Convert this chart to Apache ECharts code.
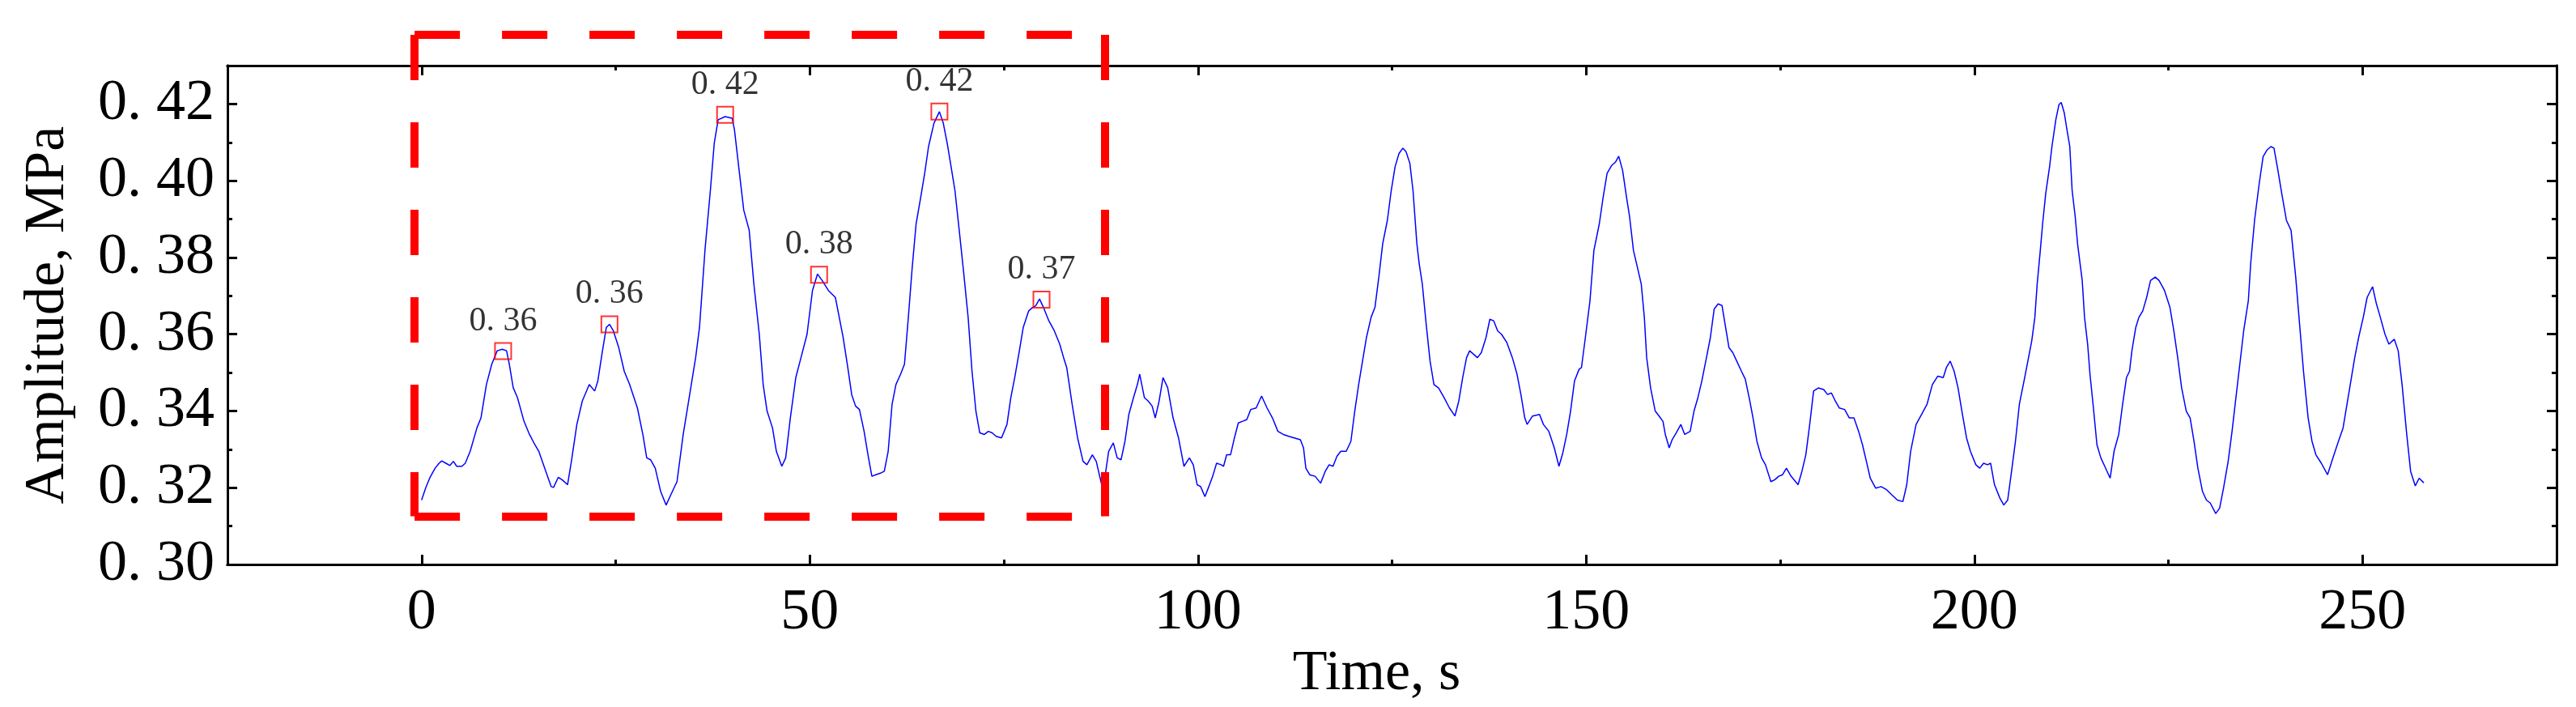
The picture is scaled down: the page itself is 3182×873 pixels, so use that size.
<!DOCTYPE html>
<html>
<head>
<meta charset="utf-8">
<script src="https://cdn.jsdelivr.net/npm/echarts@6/dist/echarts.min.js"></script>
<style>
html, body { margin: 0; padding: 0; background: #fff; }
#amplitudeChart { width: 3182px; height: 873px; }
</style>
</head>
<body>
<div id="amplitudeChart"></div>
<script>
// time (s) and amplitude (MPa)
var timeS = [
	0, 0.52, 1.04, 1.74, 2.26, 2.6, 3.13, 3.65, 4.1, 4.52, 5.2, 5.63, 6.26, 7.13, 7.65, 8.35, 9.04, 9.74, 10.4, 10.95,
	11.3, 11.8, 12.35, 13.2, 13.9, 14.6, 15.1, 16.0, 16.7, 17.0, 17.6, 18.1, 18.8, 19.3, 20.0, 20.7, 21.6, 22.3, 22.7, 23.3,
	23.8, 24.2, 24.7, 25.4, 26.1, 26.8, 27.8, 28.5, 29.0, 29.5, 30.1, 30.8, 31.5, 32.2, 32.9, 33.7, 34.4, 35.3, 35.8, 36.5,
	37.2, 37.7, 38.2, 39.1, 40.0, 40.3, 41.0, 41.5, 42.2, 42.8, 43.5, 44.0, 44.5, 45.2, 45.7, 46.4, 46.9, 47.5, 48.2, 48.7,
	49.65, 50.35, 51.0, 51.6, 52.4, 53.3, 53.8, 54.3, 54.9, 55.4, 55.9, 56.4, 57.0, 57.5, 58.0, 58.5, 59.1, 59.6, 60.1, 60.6,
	61.1, 61.7, 62.2, 62.7, 63.2, 63.7, 64.3, 64.8, 65.3, 66.0, 66.7, 67.2, 67.7, 68.2, 68.7, 69.3, 69.8, 70.4, 70.9, 71.4,
	71.9, 72.5, 73.0, 73.5, 74.0, 74.7, 75.4, 75.9, 76.4, 77.0, 77.5, 78.2, 78.7, 79.1, 79.6, 80.1, 80.8, 81.5, 82.2, 82.7,
	83.1, 83.8, 84.5, 85.2, 85.7, 86.4, 86.9, 87.6, 88.0, 88.5, 89.1, 89.6, 90.1, 90.6, 91.1, 91.7, 92.2, 92.5, 93.1, 93.6,
	94.1, 94.5, 95.0, 95.5, 96.1, 96.8, 97.5, 98.2, 98.9, 99.4, 99.9, 100.35, 100.9, 101.4, 101.9, 102.4, 103.0, 103.3, 103.7, 104.2,
	104.7, 105.2, 105.7, 106.3, 106.8, 107.5, 108.2, 108.9, 109.6, 110.3, 111.0, 111.7, 112.4, 113.2, 113.6, 113.9, 114.4, 115.1, 115.8, 116.4,
	116.9, 117.4, 117.9, 118.4, 119.1, 119.7, 120.2, 120.7, 121.2, 121.7, 122.3, 122.8, 123.3, 123.8, 124.4, 124.9, 125.4, 125.9, 126.4, 126.8,
	127.3, 127.7, 128.2, 128.5, 128.9, 129.4, 129.9, 130.4, 131.0, 131.7, 132.4, 133.1, 133.6, 134.1, 134.6, 135.0, 135.5, 136.0, 136.5, 137.1,
	137.6, 138.1, 138.6, 139.1, 139.8, 140.5, 141.1, 141.6, 142.1, 142.4, 143.1, 144.0, 144.5, 145.2, 145.9, 146.5, 147.0, 147.5, 148.0, 148.5,
	149.1, 149.4, 149.9, 150.5, 151.0, 151.7, 152.2, 152.7, 153.3, 153.8, 154.2, 154.7, 155.2, 155.6, 156.1, 156.6, 157.1, 157.5, 157.8, 158.3,
	158.9, 159.4, 159.9, 160.2, 160.7, 161.1, 161.6, 162.2, 162.7, 163.4, 163.9, 164.4, 164.9, 165.5, 166.0, 166.5, 167.0, 167.5, 167.9, 168.4,
	168.9, 169.4, 170.0, 170.5, 171.0, 171.5, 172.0, 172.6, 173.1, 173.8, 174.3, 174.8, 175.3, 175.8, 176.4, 177.3, 177.8, 178.3, 178.8, 179.3,
	179.9, 180.6, 181.1, 181.6, 182.1, 182.6, 183.3, 183.9, 184.5, 185.1, 185.6, 186.1, 186.6, 187.3, 188.0, 188.7, 189.4, 190.1, 190.8, 191.3,
	191.8, 192.5, 193.2, 193.9, 194.6, 195.3, 196.0, 196.4, 196.9, 197.4, 197.9, 198.4, 199.0, 199.5, 200.2, 200.7, 201.2, 201.7, 202.1, 202.6,
	203.3, 203.8, 204.3, 204.8, 205.3, 205.8, 206.4, 206.9, 207.4, 207.8, 208.1, 208.5, 208.8, 209.2, 209.7, 210.0, 210.5, 210.9, 211.2, 211.6,
	211.9, 212.3, 212.6, 213.0, 213.3, 213.9, 214.2, 214.6, 214.9, 215.3, 215.8, 216.3, 216.8, 217.5, 218.0, 218.6, 219.1, 219.6, 220.0, 220.3,
	220.8, 221.2, 221.7, 222.2, 222.7, 223.3, 223.8, 224.5, 225.2, 225.7, 226.2, 226.7, 227.3, 227.8, 228.3, 228.8, 229.4, 229.9, 230.4, 231.1,
	231.6, 232.1, 232.7, 233.2, 233.7, 234.2, 234.7, 235.3, 235.6, 236.1, 236.7, 237.2, 237.7, 238.2, 238.6, 239.1, 239.6, 240.2, 240.8, 241.4,
	241.9, 242.4, 243.0, 243.5, 244.0, 244.7, 245.5, 246.2, 246.9, 247.5, 248.0, 248.5, 249.0, 249.5, 250.1, 250.6, 251.3, 251.8, 252.3, 252.9,
	253.4, 254.1, 254.6, 255.1, 255.7, 256.2, 256.8, 257.3, 257.9
];
var amplitude = [
	0.3168, 0.3199, 0.3225, 0.3251, 0.3264, 0.327, 0.3264, 0.3258, 0.3269, 0.3256, 0.3256, 0.3264, 0.3295, 0.3356, 0.3382, 0.3469, 0.3522, 0.3557, 0.3561, 0.3557,
	0.3522, 0.3461, 0.3435, 0.3373, 0.3339, 0.3312, 0.3295, 0.3243, 0.3203, 0.3201, 0.3227, 0.3221, 0.3208, 0.3269, 0.3365, 0.3426, 0.3469, 0.3452, 0.3478, 0.3557,
	0.3618, 0.3626, 0.3609, 0.3565, 0.3504, 0.3469, 0.3408, 0.3339, 0.3278, 0.3273, 0.3251, 0.319, 0.3155, 0.3186, 0.3216, 0.3339, 0.3426, 0.3539, 0.3618, 0.3818,
	0.3975, 0.4098, 0.4159, 0.4167, 0.4163, 0.4133, 0.401, 0.3923, 0.3871, 0.3731, 0.36, 0.3469, 0.34, 0.3356, 0.3295, 0.3256, 0.3278, 0.3382, 0.3487, 0.3526,
	0.36, 0.3714, 0.3757, 0.374, 0.3714, 0.3696, 0.3644, 0.3592, 0.3513, 0.3443, 0.3413, 0.3404, 0.3347, 0.3286, 0.323, 0.3234, 0.3238, 0.3243, 0.3295, 0.3417,
	0.3469, 0.3496, 0.3522, 0.3644, 0.3775, 0.3888, 0.3958, 0.4019, 0.4089, 0.415, 0.418, 0.415, 0.4098, 0.4037, 0.3975, 0.3862, 0.3766, 0.3644, 0.3504, 0.34,
	0.3343, 0.3339, 0.3347, 0.3343, 0.3334, 0.333, 0.3365, 0.3435, 0.3487, 0.3557, 0.3618, 0.3661, 0.367, 0.3674, 0.3692, 0.367, 0.3635, 0.3609, 0.3574, 0.3539,
	0.3513, 0.3417, 0.333, 0.3269, 0.326, 0.3286, 0.3269, 0.3208, 0.3225, 0.3295, 0.3317, 0.3278, 0.3273, 0.3321, 0.3391, 0.3435, 0.3469, 0.3496, 0.3435, 0.3426,
	0.3413, 0.3382, 0.3426, 0.3487, 0.3461, 0.3382, 0.333, 0.3256, 0.3278, 0.326, 0.3208, 0.3203, 0.3177, 0.3203, 0.323, 0.3264, 0.326, 0.3256, 0.3286, 0.3286,
	0.333, 0.3369, 0.3373, 0.3378, 0.3404, 0.3408, 0.3439, 0.3408, 0.3382, 0.3347, 0.3339, 0.3334, 0.333, 0.3325, 0.3304, 0.3251, 0.3234, 0.323, 0.3212, 0.3243,
	0.326, 0.3256, 0.3282, 0.3295, 0.3295, 0.3321, 0.34, 0.3469, 0.353, 0.3591, 0.3644, 0.367, 0.3749, 0.3836, 0.3897, 0.3975, 0.4037, 0.4071, 0.4085, 0.4076,
	0.4045, 0.3975, 0.3836, 0.3784, 0.3731, 0.3626, 0.353, 0.3469, 0.346, 0.3435, 0.3408, 0.3387, 0.3426, 0.3487, 0.3539, 0.3557, 0.3548, 0.3539, 0.3552, 0.3591,
	0.3639, 0.3635, 0.3609, 0.36, 0.3578, 0.3539, 0.3496, 0.3443, 0.3382, 0.3365, 0.3387, 0.3391, 0.3365, 0.3347, 0.3304, 0.3256, 0.3291, 0.3339, 0.34, 0.3478,
	0.3509, 0.3513, 0.3591, 0.3688, 0.3818, 0.3888, 0.3958, 0.4019, 0.404, 0.4049, 0.4064, 0.4027, 0.3958, 0.3906, 0.3818, 0.3775, 0.3731, 0.3644, 0.3539, 0.3461,
	0.34, 0.3387, 0.3373, 0.3339, 0.3304, 0.3326, 0.3343, 0.3365, 0.3339, 0.3347, 0.34, 0.3435, 0.3478, 0.3539, 0.3591, 0.3666, 0.3679, 0.3675, 0.3626, 0.3565,
	0.3552, 0.353, 0.3504, 0.3483, 0.3435, 0.3382, 0.3321, 0.3278, 0.326, 0.3216, 0.3221, 0.323, 0.3234, 0.3251, 0.323, 0.3208, 0.3243, 0.3286, 0.3365, 0.3452,
	0.346, 0.3456, 0.3443, 0.3447, 0.3426, 0.3408, 0.3404, 0.3382, 0.3382, 0.3347, 0.3312, 0.3269, 0.3225, 0.3199, 0.3203, 0.3195, 0.3181, 0.3168, 0.3164, 0.3208,
	0.3295, 0.3365, 0.3391, 0.3417, 0.3469, 0.3491, 0.3487, 0.3513, 0.353, 0.3504, 0.3461, 0.34, 0.333, 0.3295, 0.326, 0.3251, 0.3264, 0.326, 0.3264, 0.3208,
	0.3173, 0.3155, 0.3168, 0.3243, 0.3321, 0.3417, 0.3478, 0.353, 0.3583, 0.3644, 0.3731, 0.3818, 0.3888, 0.3967, 0.4037, 0.4089, 0.4159, 0.4198, 0.4204, 0.4176,
	0.4137, 0.4089, 0.3975, 0.3906, 0.3836, 0.374, 0.3644, 0.3574, 0.3496, 0.3417, 0.3312, 0.3278, 0.3256, 0.3225, 0.3295, 0.3339, 0.3417, 0.3487, 0.3504, 0.3557,
	0.3618, 0.3644, 0.3661, 0.3696, 0.374, 0.3749, 0.374, 0.3714, 0.367, 0.3609, 0.3539, 0.3461, 0.34, 0.3382, 0.3321, 0.3251, 0.319, 0.3168, 0.316, 0.3133,
	0.3147, 0.3199, 0.3269, 0.3347, 0.3435, 0.3522, 0.3609, 0.3688, 0.3784, 0.3897, 0.3993, 0.4063, 0.408, 0.4089, 0.4085, 0.4028, 0.3967, 0.3897, 0.3871, 0.3749,
	0.3626, 0.3504, 0.3382, 0.3321, 0.3286, 0.3264, 0.3234, 0.3278, 0.3321, 0.3356, 0.3417, 0.3478, 0.3539, 0.3591, 0.3644, 0.3696, 0.3724, 0.3679, 0.3644, 0.36,
	0.3574, 0.3587, 0.3557, 0.3469, 0.3339, 0.3243, 0.3205, 0.3225, 0.3213
];

// marked peaks in the first segment
var peakTime = [10.5, 24.2, 39.1, 51.2, 66.7, 79.85];
var peakAmp = [0.3556, 0.3626, 0.4172, 0.3755, 0.418, 0.369];
var peakLabels = ['0. 36', '0. 36', '0. 42', '0. 38', '0. 42', '0. 37'];

// dashed frame around the marked segment (time, amplitude corners)
var boxTime = [-0.9, 88.0];
var boxAmp = [0.3126, 0.438];

// axis ticks
var xMajor = [0, 50, 100, 150, 200, 250];
var xMinor = [25, 75, 125, 175, 225];
var yMajor = [0.30, 0.32, 0.34, 0.36, 0.38, 0.40, 0.42];
var yMinor = [0.31, 0.33, 0.35, 0.37, 0.39, 0.41];

var fontName = 'Liberation Serif';

function tickAxis(pos, values, len, withLabel) {
	var isX = (pos == 'bottom' || pos == 'top');
	var ax = {
		type: 'value',
		position: pos,
		min: isX ? -25 : 0.30,
		max: isX ? 275 : 0.43,
		axisLine: { show: true, onZero: false, lineStyle: { color: '#000', width: 3 } },
		axisTick: { show: true, inside: true, length: len, customValues: values, lineStyle: { color: '#000', width: 3 } },
		axisLabel: { show: false },
		splitLine: { show: false }
	};
	if (withLabel) {
		ax.axisLabel = {
			show: true,
			customValues: values,
			color: '#000',
			fontFamily: fontName,
			fontSize: 72,
			margin: isX ? 24 : 16,
			formatter: isX ? function (v) { return String(v); }
				: function (v) { return v.toFixed(2).replace('.', '. '); }
		};
	}
	return ax;
}

var trace = [];
for (var i = 0; i < timeS.length; i++) {
	trace.push([timeS[i], amplitude[i]]);
}
var peaks = [];
for (var j = 0; j < peakTime.length; j++) {
	peaks.push({ name: peakLabels[j], value: [peakTime[j], peakAmp[j]] });
}
var x0 = boxTime[0], x1 = boxTime[1], y0 = boxAmp[0], y1 = boxAmp[1];
var boxEdges = [
	{ coords: [[x0, y1], [x1, y1]] },
	{ coords: [[x0, y1], [x0, y0]] },
	{ coords: [[x1, y1], [x1, y0]] },
	{ coords: [[x0, y0], [x1, y0]] }
];

var xBottom = tickAxis('bottom', xMajor, 12, true);
xBottom.name = 'Time, s';
xBottom.nameLocation = 'middle';
xBottom.nameGap = 80;
// title sits a little left of the plot centre
xBottom.nameTextStyle = { color: '#000', fontFamily: fontName, fontSize: 70, padding: [0, 38, 0, 0] };

var yLeft = tickAxis('left', yMajor, 12, true);
yLeft.name = 'Amplitude, MPa';
yLeft.nameLocation = 'middle';
yLeft.nameGap = 186;
yLeft.nameTextStyle = { color: '#000', fontFamily: fontName, fontSize: 70 };

var chart = echarts.init(document.getElementById('amplitudeChart'), null, { renderer: 'canvas' });
var option = {
	animation: false,
	backgroundColor: '#fff',
	grid: { left: 281, right: 24, top: 81, bottom: 166, containLabel: false },
	xAxis: [
		xBottom,
		tickAxis('bottom', xMinor, 6, false),
		tickAxis('top', xMajor, 12, false),
		tickAxis('top', xMinor, 6, false)
	],
	yAxis: [
		yLeft,
		tickAxis('left', yMinor, 6, false),
		tickAxis('right', yMajor, 12, false),
		tickAxis('right', yMinor, 6, false)
	],
	series: [{
		name: 'amplitude',
		type: 'line',
		data: trace,
		showSymbol: false,
		symbol: 'none',
		lineStyle: { color: '#0000ff', width: 1.5 },
		z: 2
	}, {
		name: 'frame',
		type: 'lines',
		coordinateSystem: 'cartesian2d',
		clip: false,
		polyline: false,
		data: boxEdges,
		lineStyle: { color: '#ff0000', width: 10, type: [56, 52], opacity: 1, curveness: 0 },
		z: 3
	}, {
		name: 'peaks',
		type: 'scatter',
		data: peaks,
		symbol: 'rect',
		symbolSize: 20,
		itemStyle: { color: 'rgba(255,255,255,0)', borderColor: '#ff0000', borderWidth: 2 },
		label: {
			show: true,
			position: 'top',
			distance: 5,
			formatter: '{b}',
			color: '#000',
			fontFamily: fontName,
			fontSize: 42
		},
		z: 4
	}]
};
chart.setOption(option);
</script>
</body>
</html>
